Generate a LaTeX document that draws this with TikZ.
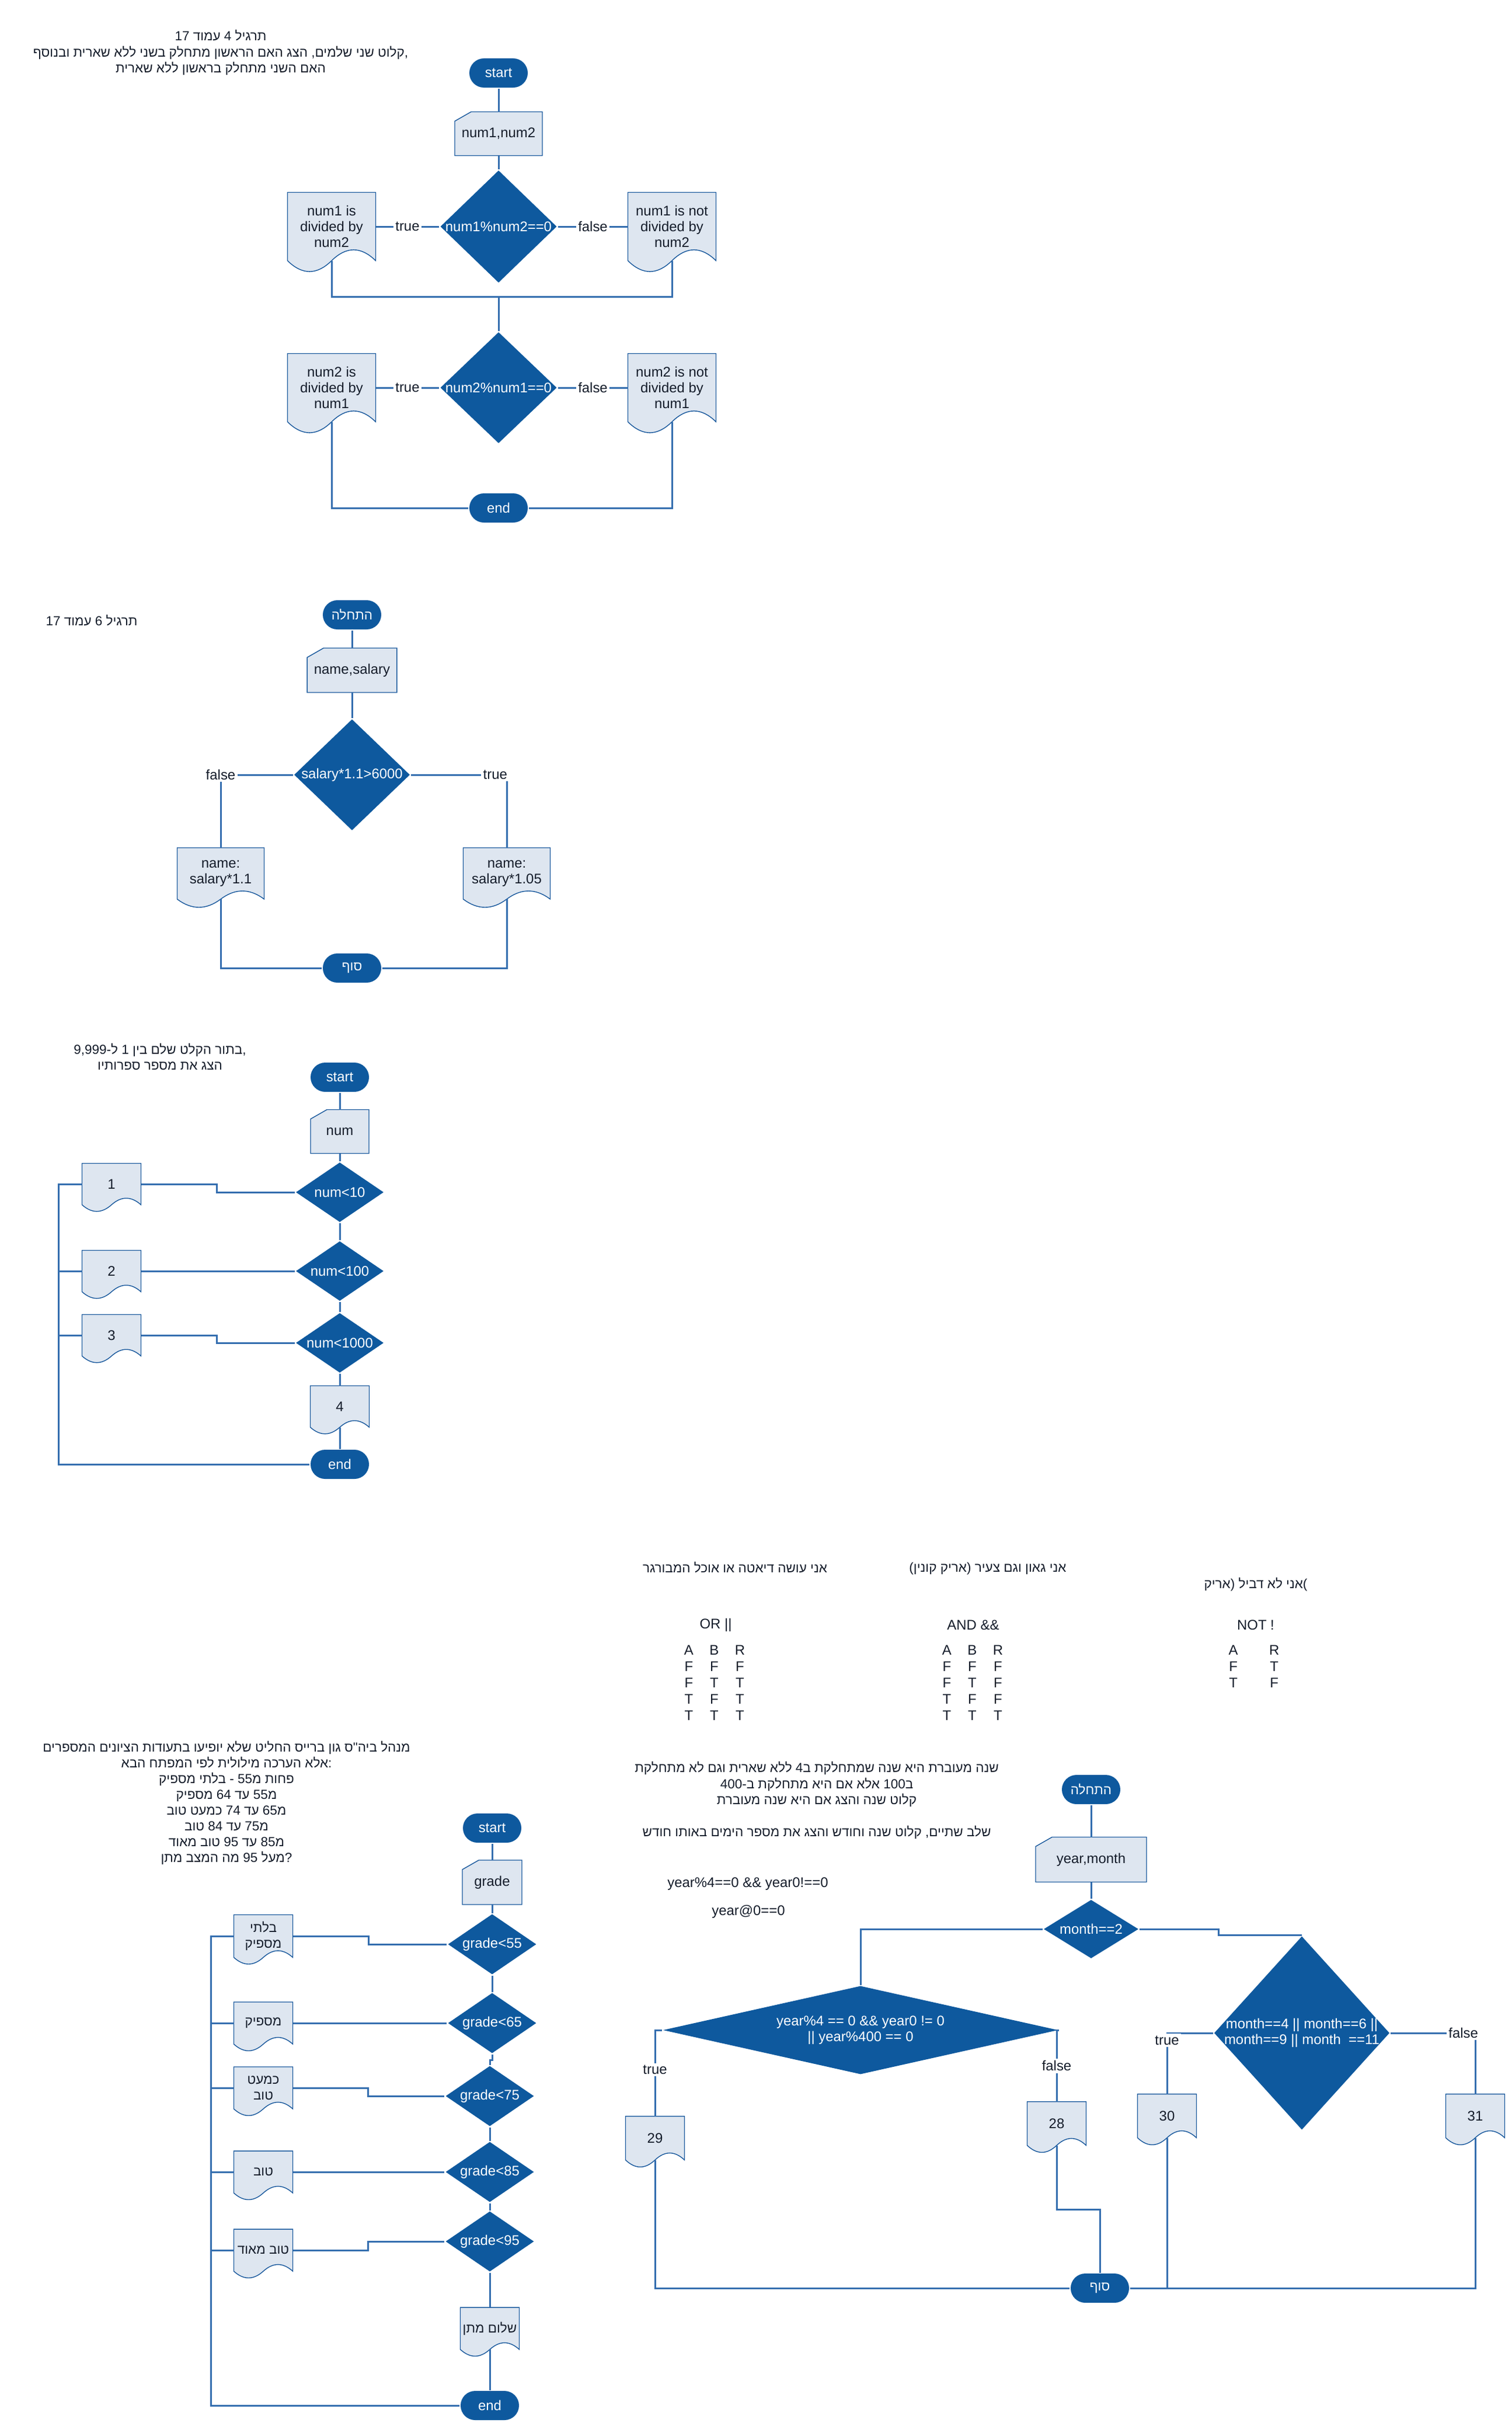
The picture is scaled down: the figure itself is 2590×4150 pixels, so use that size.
\documentclass[tikz,border=0pt]{standalone}
\usepackage{fontspec}
\setmainfont{Liberation Sans}
\newfontfamily\hebfont[Script=Hebrew]{Liberation Sans}
\TeXXeTstate=1
\usepackage{tikz}
\usetikzlibrary{shapes.geometric}
\definecolor{boxblue}{RGB}{14,89,158}
\definecolor{paleblue}{RGB}{222,230,240}
\definecolor{rimblue}{RGB}{24,88,156}
\definecolor{wireblue}{RGB}{52,110,175}
\definecolor{ink}{RGB}{20,28,42}
\pgfdeclarelayer{background}
\pgfsetlayers{background,main}
\setlength\tabcolsep{3.9pt}
\renewcommand\arraystretch{1.04}
\tikzset{
  term/.style={rectangle, rounded corners=0.25cm, fill=boxblue, text=white,
    minimum width=1cm, minimum height=0.5cm},
  cond/.style={diamond, fill=boxblue, text=white, inner sep=-2pt, aspect=1.5, align=center},
  doc/.style 2 args={rectangle, outer sep=0pt, inner xsep=0.5pt, align=center,
    minimum width=#1*0.01cm, minimum height=#2*0.01cm},
  card/.style 2 args={rectangle, outer sep=0pt, align=center,
    minimum width=#1*0.01cm, minimum height=#2*0.01cm},
  docshape/.style={fill=paleblue, draw=rimblue},
  wire/.style={draw=wireblue},
  lbl/.style={fill=white, inner sep=1pt, text=ink},
  heb/.style={font=\fontsize{6.4}{7.7}\selectfont\hebfont, align=center},
}

\begin{document}
\begin{tikzpicture}[x=0.01cm, y=-0.01cm, line width=0.3mm,
    font=\fontsize{6.8}{7.7}\selectfont, text=ink]
  \useasboundingbox (0,0) rectangle (2590,4150);

  % num1 , num2
  \node[heb] (t1) at (378,90) {\beginR תרגיל 4 עמוד 17\endR\\
    \beginR קלוט שני שלמים, הצג האם הראשון מתחלק בשני ללא שארית ובנוסף\endR,\\
    \beginR האם השני מתחלק בראשון ללא שארית\endR};
  \node[term] (st1) at (854,125) {start};
  \node[card={150}{75}] (in1) at (854,229) {num1,num2};
  \node[cond, minimum width=2cm, minimum height=1.93cm] (d1) at (854,388) {num1\%num2==0};
  \node[doc={151}{117}] (docA) at (568,388) {num1 is\\divided by\\num2};
  \node[doc={151}{117}] (docB) at (1151,388) {num1 is not\\divided by\\num2};
  \coordinate (mid1) at (854,508);
  \node[cond, minimum width=2cm, minimum height=1.91cm] (d2) at (854,664) {num2\%num1==0};
  \node[doc={151}{117}] (docC) at (568,664) {num2 is\\divided by\\num1};
  \node[doc={151}{117}] (docD) at (1151,664) {num2 is not\\divided by\\num1};
  \node[term] (end1) at (854,870) {end};

  \draw[wire] (st1) -- (in1) -- (d1);
  \draw[wire] (d1) -- node[lbl] {true} (docA);
  \draw[wire] (d1) -- node[lbl] {false} (docB);
  \draw[wire] (docA.south) |- (mid1) -| (docB.south);
  \draw[wire] (mid1) -- (d2);
  \draw[wire] (d2) -- node[lbl] {true} (docC);
  \draw[wire] (d2) -- node[lbl] {false} (docD);
  \draw[wire] (docC.south) |- (end1) -| (docD.south);

  % salary
  \node[heb] (t2) at (157,1063) {\beginR תרגיל 6 עמוד 17\endR};
  \node[term, heb] (st2) at (603,1053) {\beginR התחלה\endR};
  \node[card={151}{76}] (in2) at (603,1148) {name,salary};
  \node[cond, minimum width=1.99cm, minimum height=1.91cm] (d3) at (603,1327) {salary*1.1>6000};
  \node[doc={149}{88}] (docF) at (378,1496) {name:\\salary*1.1};
  \node[doc={149}{88}] (docT) at (868,1496) {name:\\salary*1.05};
  \node[term, heb] (end2) at (603,1658) {\beginR סוף\endR};

  \draw[wire] (st2) -- (in2) -- (d3);
  \draw[wire] (d3) -| node[lbl, pos=0.5] {false} (docF);
  \draw[wire] (d3) -| node[lbl, pos=0.44] {true} (docT);
  \draw[wire] (docF) |- (end2) -| (docT);

  % digits
  \node[heb] (t3) at (274,1810) {\beginR בתור הקלט שלם בין 1 ל-9,999\endR,\\
    \beginR הצג את מספר ספרותיו\endR};
  \node[term] (st3) at (582,1845) {start};
  \node[card={100}{75}] (in3) at (582,1938) {num};
  \node[cond, minimum width=1.51cm, minimum height=1.03cm] (n10) at (582,2042) {num<10};
  \node[cond, minimum width=1.51cm, minimum height=1.03cm] (n100) at (582,2177) {num<100};
  \node[cond, minimum width=1.51cm, minimum height=1.03cm] (n1000) at (582,2300) {num<1000};
  \node[doc={101}{71}] (o1) at (191,2028) {1};
  \node[doc={101}{71}] (o2) at (191,2177) {2};
  \node[doc={101}{71}] (o3) at (191,2287) {3};
  \node[doc={101}{71}] (o4) at (582,2409) {4};
  \node[term] (end3) at (582,2508) {end};
  \coordinate (bus3) at (100,2028);

  \draw[wire] (st3) -- (in3) -- (n10) -- (n100) -- (n1000) -- (o4) -- (end3);
  \draw[wire] (n10.west) -- ++(-133,0) |- (o1);
  \draw[wire] (n100) -- (o2);
  \draw[wire] (n1000.west) -- ++(-133,0) |- (o3);
  \draw[wire] (end3) -| (bus3) -- (o1);
  \draw[wire] (o2) -- (o2 -| bus3);
  \draw[wire] (o3) -- (o3 -| bus3);

  % truth tables
  \node[heb] (q1) at (1259,2685) {\beginR אני עושה דיאטה או אוכל המבורגר\endR};
  \node[heb] (q2) at (1692,2687) {\beginR אני גאון וגם צעיר (אריק קונין)\endR};
  \node[heb] (q3) at (2151,2714) {\beginR אני לא דביל (אריק\endR)};
  \node (or) at (1226,2783) {OR ||};
  \node (and) at (1667,2783) {AND \&\&};
  \node (not) at (2151,2783) {NOT !};
  \node (tor) at (1224,2885) {\begin{tabular}{ccc}
    A & B & R\\ F & F & F\\ F & T & T\\ T & F & T\\ T & T & T\end{tabular}};
  \node (tand) at (1666,2885) {\begin{tabular}{ccc}
    A & B & R\\ F & F & F\\ F & T & F\\ T & F & F\\ T & T & T\end{tabular}};
  \node (tnot) at (2148,2857) {\begin{tabular}{c@{\hspace{15.2pt}}c}
    A & R\\ F & T\\ T & F\end{tabular}};

  % grades
  \node[heb] (t4) at (388,3088) {%
    \beginR מנהל ביה"ס גון ברייס החליט שלא יופיעו בתעודות הציונים המספרים\endR\\
    \beginR אלא הערכה מילולית לפי המפתח הבא\endR:\\
    \beginR פחות מ55 - בלתי מספיק\endR\\
    \beginR מ55 עד 64 מספיק\endR\\
    \beginR מ65 עד 74 כמעט טוב\endR\\
    \beginR מ75 עד 84 טוב\endR\\
    \beginR מ85 עד 95 טוב מאוד\endR\\
    \beginR מעל 95 מה המצב מתן\endR?};
  \node[term] (st4) at (843,3131) {start};
  \node[card={102}{76}] (in4) at (843,3224) {grade};
  \node[cond, minimum width=1.52cm, minimum height=1.04cm] (g55) at (843,3330) {grade<55};
  \node[cond, minimum width=1.52cm, minimum height=1.04cm] (g65) at (843,3465) {grade<65};
  \node[cond, minimum width=1.52cm, minimum height=1.04cm] (g75) at (839,3590) {grade<75};
  \node[cond, minimum width=1.52cm, minimum height=1.04cm] (g85) at (839,3720) {grade<85};
  \node[cond, minimum width=1.52cm, minimum height=1.04cm] (g95) at (839,3839) {grade<95};
  \node[doc={101}{72}, heb] (b1) at (451,3316) {\beginR בלתי\endR\\\beginR מספיק\endR};
  \node[doc={101}{72}, heb] (b2) at (451,3465) {\beginR מספיק\endR};
  \node[doc={101}{72}, heb] (b3) at (451,3576) {\beginR כמעט\endR\\\beginR טוב\endR};
  \node[doc={101}{72}, heb] (b4) at (451,3720) {\beginR טוב\endR};
  \node[doc={101}{72}, heb] (b5) at (451,3854) {\beginR טוב מאוד\endR};
  \node[doc={101}{72}, heb] (b6) at (839,3988) {\beginR שלום מתן\endR};
  \node[term] (end4) at (839,4120) {end};
  \coordinate (bus4) at (361,3316);

  \draw[wire] (st4) -- (in4) -- (g55) -- (g65);
  \draw[wire] (g65.south) -- ++(0,10) -| (g75.north);
  \draw[wire] (g75) -- (g85) -- (g95) -- (b6) -- (end4);
  \draw[wire] (g55.west) -- ++(-134,0) |- (b1);
  \draw[wire] (g65) -- (b2);
  \draw[wire] (g75.west) -- ++(-131,0) |- (b3);
  \draw[wire] (g85) -- (b4);
  \draw[wire] (g95.west) -- ++(-131,0) |- (b5);
  \draw[wire] (end4) -| (bus4) -- (b1);
  \foreach \b in {b2,b3,b4,b5}
    \draw[wire] (\b) -- (\b -| bus4);

  % leap year and days of month
  \node[heb] (t5) at (1399,3056) {%
    \beginR שנה מעוברת היא שנה שמתחלקת ב4 ללא שארית וגם לא מתחלקת\endR\\
    \beginR ב100 אלא אם היא מתחלקת ב-400\endR\\
    \beginR קלוט שנה והצג אם היא שנה מעוברת\endR};
  \node[heb] (t6) at (1399,3138) {\beginR שלב שתיים, קלוט שנה וחודש והצג את מספר הימים באותו חודש\endR};
  \node (t7) at (1281,3227) {year\%4==0 \&\& year0!==0};
  \node (t8) at (1282,3274) {year@0==0};
  \node[term, heb] (st5) at (1869,3065) {\beginR התחלה\endR};
  \node[card={190}{77}] (in5) at (1869,3185) {year,month};
  \node[cond, minimum width=1.63cm, minimum height=1.01cm] (m2) at (1869,3304) {month==2};
  \node[cond, minimum width=6.77cm, minimum height=1.52cm, aspect=4] (dl) at (1474,3477)
    {year\%4 == 0 \&\& year0 != 0\\|| year\%400 == 0};
  \node[cond, minimum width=3.01cm, minimum height=3.32cm, aspect=1] (dr) at (2230,3482)
    {month==4 || month==6 ||\\month==9 || month\ \ ==11};
  \node[doc={101}{75}] (d29) at (1122,3662) {29};
  \node[doc={101}{75}] (d28) at (1810,3637) {28};
  \node[doc={101}{75}] (d30) at (1999,3624) {30};
  \node[doc={101}{75}] (d31) at (2527,3624) {31};
  \node[term, heb] (end5) at (1884,3919) {\beginR סוף\endR};

  \draw[wire] (st5) -- (in5) -- (m2);
  \draw[wire] (m2) -| (dl);
  \draw[wire] (m2.east) -- ++(135,0) |- (dr.north);
  \draw[wire] (dl) -| node[lbl, pos=0.73] {true} (d29);
  \draw[wire] (dl) -| node[lbl, pos=0.75] {false} (d28);
  \draw[wire] (d28.south) -- ++(0,110) -| (end5);
  \draw[wire] (d29) |- (end5);
  \draw[wire] (dr) -| node[lbl, pos=0.56] {true} (d30);
  \draw[wire] (dr) -| node[lbl, pos=0.43] {false} (d31);
  \draw[wire] (d30) |- (end5);
  \draw[wire] (d31) |- (end5);

  \begin{pgfonlayer}{background}
    \foreach \nm/\w/\h in {docA/151/117, docB/151/117, docC/151/117, docD/151/117,
        docF/149/88, docT/149/88, o1/101/71, o2/101/71, o3/101/71, o4/101/71,
        b1/101/72, b2/101/72, b3/101/72, b4/101/72, b5/101/72, b6/101/72,
        d29/101/75, d28/101/75, d30/101/75, d31/101/75}
      \filldraw[docshape] (\nm.north west) -- (\nm.north east) -- (\nm.south east)
        .. controls +({-\w/6},{-0.212*\h}) and +({\w/6},{-0.212*\h}) .. (\nm.south)
        .. controls +({-\w/6},{0.212*\h}) and +({\w/6},{0.212*\h}) .. (\nm.south west)
        -- cycle;
    \foreach \nm in {in1,in2,in3,in4,in5}
      \filldraw[docshape] (\nm.south west) -- ([yshift=-0.16cm]\nm.north west)
        -- ([xshift=0.28cm]\nm.north west) -- (\nm.north east) -- (\nm.south east) -- cycle;
  \end{pgfonlayer}
\end{tikzpicture}
\end{document}
